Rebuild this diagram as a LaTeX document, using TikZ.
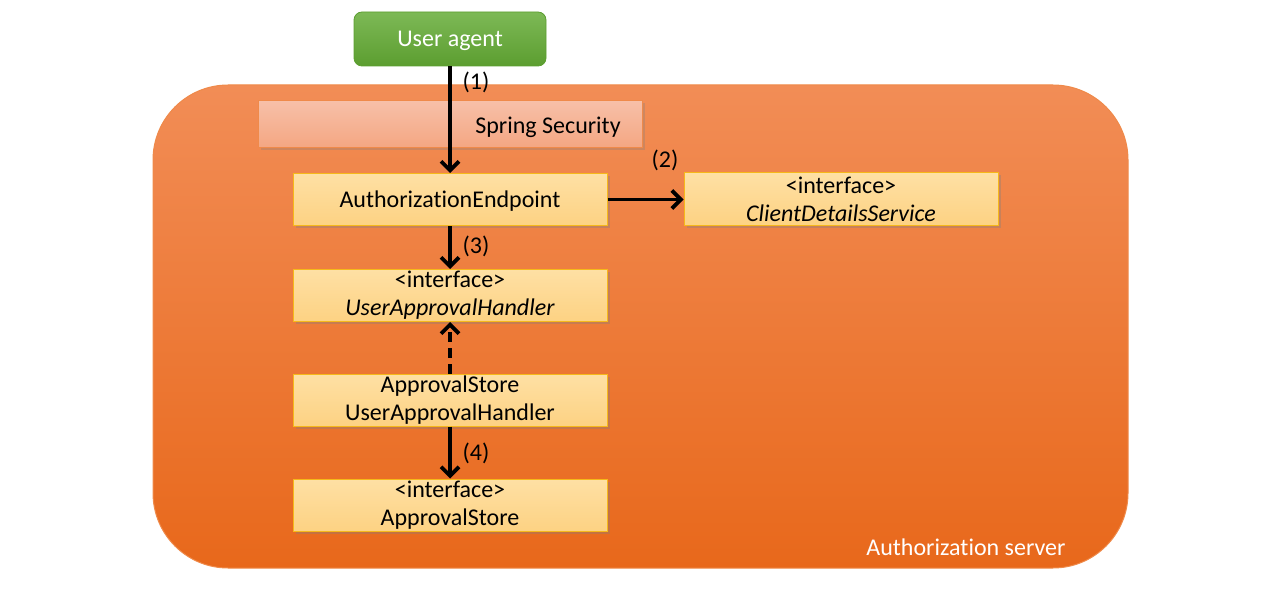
\documentclass[tikz,border=0pt]{standalone}
\usepackage{fontspec}
\setmainfont[Ligatures={NoCommon,NoDiscretionary}]{Carlito}
\usetikzlibrary{arrows.meta,shadows}
\definecolor{ornTop}{HTML}{F28D56}
\definecolor{ornBot}{HTML}{E8681B}
\definecolor{ornLine}{HTML}{EF8A4A}
\definecolor{grTop}{HTML}{7DB956}
\definecolor{grBot}{HTML}{5C9E30}
\definecolor{pkTop}{HTML}{F7C0A8}
\definecolor{pkBot}{HTML}{F4A682}
\definecolor{ylTop}{HTML}{FEE0A4}
\definecolor{ylBot}{HTML}{FDD283}
\definecolor{ylLine}{HTML}{F6B81A}
\tikzset{
  cls/.style={draw=ylLine, line width=1pt, top color=ylTop, bottom color=ylBot,
    minimum width=314pt, minimum height=52pt, inner sep=0pt, align=center,
    font=\fontsize{24}{28}\selectfont,
    drop shadow={opacity=0.35, shadow xshift=2.5pt, shadow yshift=-2.5pt}},
  flow/.style={line width=3.8pt, -{Straight Barb[length=9pt,width=18pt,line width=3.8pt]}},
  lbl/.style={font=\fontsize{24}{28}\selectfont, inner sep=0pt}
}
\begin{document}
\begin{tikzpicture}[x=1pt,y=-1pt]
\useasboundingbox (0,0) rectangle (1280,591);
% server
\node[draw=ornLine, line width=1pt, top color=ornTop, bottom color=ornBot,
  rounded corners=75pt, minimum width=975pt, minimum height=483pt, inner sep=0pt]
  (server) at (640.5,326.5) {};
\node[text=white, font=\fontsize{24}{28}\selectfont, inner sep=0pt] (serverlbl) at (966,547) {Authorization server};
% user agent
\node[draw=grBot, line width=0.8pt, top color=grTop, bottom color=grBot, rounded corners=8pt,
  minimum width=192pt, minimum height=54pt, inner sep=0pt, text=white, text depth=0pt,
  font=\fontsize{24}{28}\selectfont] (ua) at (450,39) {User\ agent};
% spring security
\node[draw=ornLine, line width=1pt, top color=pkTop, bottom color=pkBot,
  minimum width=384pt, minimum height=47pt, inner sep=0pt,
  drop shadow={opacity=0.3, shadow xshift=2.5pt, shadow yshift=-2.5pt}] (ss) at (450,124.5) {};
\node[lbl, text depth=0pt] (sslbl) at (548,125) {Spring Security};
% classes
\node[cls, text depth=0pt] (ae) at (450,199.5) {AuthorizationEndpoint};
\node[cls] (cds) at (841,199) {{<}interface{>}\\\textit{ClientDetailsService}};
\node[cls] (uah) at (450,295.5) {{<}interface{>}\\\textit{UserApprovalHandler}};
\node[cls] (asuah) at (450,400) {ApprovalStore\\UserApprovalHandler};
\node[cls] (as) at (450,505) {{<}interface{>}\\ApprovalStore};
% arrows
\draw[flow] (ua.south) -- (ae.north);
\node[lbl] (l1) at (476,82) {(1)};
\draw[flow] (ae.east) -- (cds.west |- ae.east);
\node[lbl] (l2) at (665,160) {(2)};
\draw[flow] (ae.south) -- (uah.north);
\node[lbl] (l3) at (476,246) {(3)};
\draw[flow, dash pattern=on 10pt off 6pt] (asuah.north) -- (uah.south);
\draw[flow] (asuah.south) -- (as.north);
\node[lbl] (l4) at (476,453) {(4)};
\end{tikzpicture}
\end{document}
